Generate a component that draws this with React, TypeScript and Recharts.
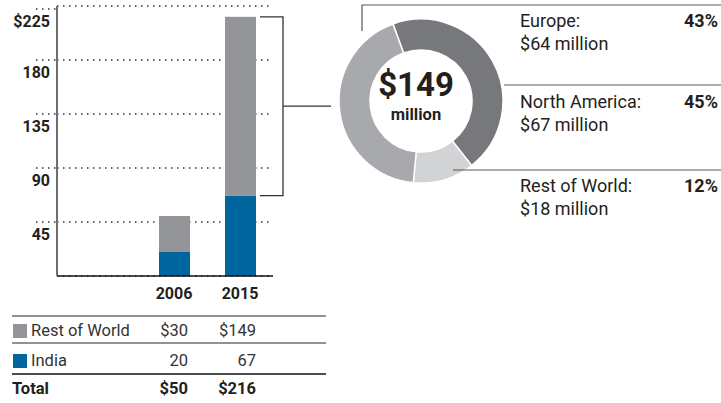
import React from "react";
import { BarChart, Bar, XAxis, YAxis, CartesianGrid, PieChart, Pie, Cell } from "recharts";

const years = ["2006", "2015"];
const india = [20, 67];
const restOfWorld = [30, 149];
const yTicks = [0, 45, 90, 135, 180, 225];

const regions = ["North America", "Rest of World", "Europe"];
const regionValues = [67, 18, 64];
const regionShares = [45, 12, 43];
const legendOrder = ["Europe", "North America", "Rest of World"];

const BLUE = "#00679e";
const GREY = "#939598";
const PIE_COLORS: Record<string, string> = { "North America": "#77787b", "Rest of World": "#d1d3d4", Europe: "#a7a9ac" };
const FONT = "Roboto, 'Liberation Sans', sans-serif";
const INK = "#231f20";

const barData = years.map((y, i) => ({ year: y, india: india[i], row: restOfWorld[i] }));
const pieData = regions.map((r, i) => ({ name: r, value: regionValues[i], share: regionShares[i] }));
const totals = years.map((_, i) => india[i] + restOfWorld[i]);

const YTick = (p: any) => {
  const v = p.payload.value;
  if (v === 0) return null;
  return (
    <g>
      <line x1={36} x2={57} y1={p.y} y2={p.y} stroke="#333" strokeWidth={1.5} strokeDasharray="1.5 4.5" />
      <text x={50} y={p.y + 18} textAnchor="end" fontSize={16} fontWeight={700} fill={INK} fontFamily={FONT}>
        {v === 225 ? "$225" : v}
      </text>
    </g>
  );
};

// grey segment; the last one also carries the bracket that leads to the donut
const RowShape = (p: any) => {
  const { x, y, width, height, fill, index } = p;
  const r = x + width;
  return (
    <g>
      <rect x={x} y={y} width={width} height={height} fill={fill} />
      {index === years.length - 1 && (
        <g stroke="#333" strokeWidth={1.3} fill="none">
          <polyline points={`${r + 4},${y} ${r + 27},${y} ${r + 27},${y + height} ${r + 4},${y + height}`} />
          <line x1={r + 27} x2={r + 75} y1={y + height / 2} y2={y + height / 2} />
        </g>
      )}
    </g>
  );
};

const cellText = { position: "absolute" as const, fontSize: 16.5, lineHeight: "20px", color: "#333" };

export default function App() {
  const pieEnd = 110 - 360;
  return (
    <div style={{ position: "absolute", left: 0, top: 0, width: 721, height: 403, background: "#fff", fontFamily: FONT, overflow: "hidden" }}>
      <div style={{ position: "absolute", left: 0, top: 0 }}>
        <BarChart width={340} height={312} data={barData} margin={{ top: 6, right: 67, left: 0, bottom: 0 }} barSize={31}>
          <CartesianGrid vertical={false} stroke="#333" strokeWidth={1.5} strokeDasharray="1.5 4.5" />
          <XAxis
            dataKey="year"
            padding={{ left: 84, right: 0 }}
            axisLine={{ stroke: "#111", strokeWidth: 1.5 }}
            tickLine={false}
            tickMargin={6}
            height={36}
            tick={{ fontSize: 16, fontWeight: 700, fill: INK, fontFamily: FONT }}
          />
          <YAxis
            width={57}
            domain={[0, 225]}
            ticks={yTicks}
            axisLine={{ stroke: "#6d6e71", strokeWidth: 2 }}
            tickLine={false}
            tick={<YTick />}
          />
          <Bar dataKey="india" stackId="a" fill={BLUE} isAnimationActive={false} />
          <Bar dataKey="row" stackId="a" fill={GREY} isAnimationActive={false} shape={<RowShape />} />
        </BarChart>
      </div>

      <div style={{ position: "absolute", left: 326, top: 6 }}>
        <PieChart width={180} height={180}>
          <Pie
            data={pieData}
            dataKey="value"
            cx={90}
            cy={90}
            innerRadius={51}
            outerRadius={82}
            startAngle={110}
            endAngle={pieEnd}
            stroke="#fff"
            strokeWidth={1.5}
            isAnimationActive={false}
          >
            {pieData.map((d) => (
              <Cell key={d.name} fill={PIE_COLORS[d.name]} />
            ))}
          </Pie>
        </PieChart>
      </div>

      <svg width={721} height={403} style={{ position: "absolute", left: 0, top: 0, pointerEvents: "none" }}>
        <g stroke="#58595b" strokeWidth={1.2} fill="none">
          <polyline points="362,31 362,5 721,5" />
          <line x1={504} x2={721} y1={85} y2={85} />
          <line x1={453} x2={721} y1={170} y2={170} />
        </g>
        <text x={416} y={96} textAnchor="middle" fontSize={33} fontWeight={700} fill={INK} fontFamily={FONT}>
          ${restOfWorld[1]}
        </text>
        <text x={416} y={120} textAnchor="middle" fontSize={16.5} fontWeight={700} fill={INK} fontFamily={FONT}>
          million
        </text>
        <g stroke="#6d6e71" strokeWidth={1.5}>
          <line x1={12} x2={326} y1={316} y2={316} />
          <line x1={12} x2={326} y1={343} y2={343} />
        </g>
        <line x1={12} x2={326} y1={374} y2={374} stroke="#111" strokeWidth={1.5} />
      </svg>

      {legendOrder.map((name, i) => {
        const d = pieData.find((p) => p.name === name)!;
        const top = [9, 90, 174][i];
        return (
          <React.Fragment key={name}>
            <div style={{ position: "absolute", left: 520, top, fontSize: 18, lineHeight: "23px", color: INK }}>
              {name}:<br />${d.value} million
            </div>
            <div style={{ position: "absolute", right: 3, top, fontSize: 18, lineHeight: "23px", fontWeight: 700, color: INK }}>
              {d.share}%
            </div>
          </React.Fragment>
        );
      })}

      {[
        { label: "Rest of World", color: GREY, vals: restOfWorld.map((v) => `$${v}`), top: 321 },
        { label: "India", color: BLUE, vals: india.map((v) => `${v}`), top: 351 },
      ].map((row) => (
        <React.Fragment key={row.label}>
          <div style={{ position: "absolute", left: 13, top: row.top + 3, width: 14, height: 14, background: row.color }} />
          <div style={{ ...cellText, left: 31, top: row.top }}>{row.label}</div>
          {row.vals.map((v, i) => (
            <div key={i} style={{ ...cellText, right: 721 - [188, 256][i], top: row.top }}>{v}</div>
          ))}
        </React.Fragment>
      ))}
      <div style={{ ...cellText, left: 12, top: 379, fontWeight: 700, color: INK }}>Total</div>
      {totals.map((v, i) => (
        <div key={i} style={{ ...cellText, right: 721 - [188, 256][i], top: 379, fontWeight: 700, color: INK }}>${v}</div>
      ))}
    </div>
  );
}
